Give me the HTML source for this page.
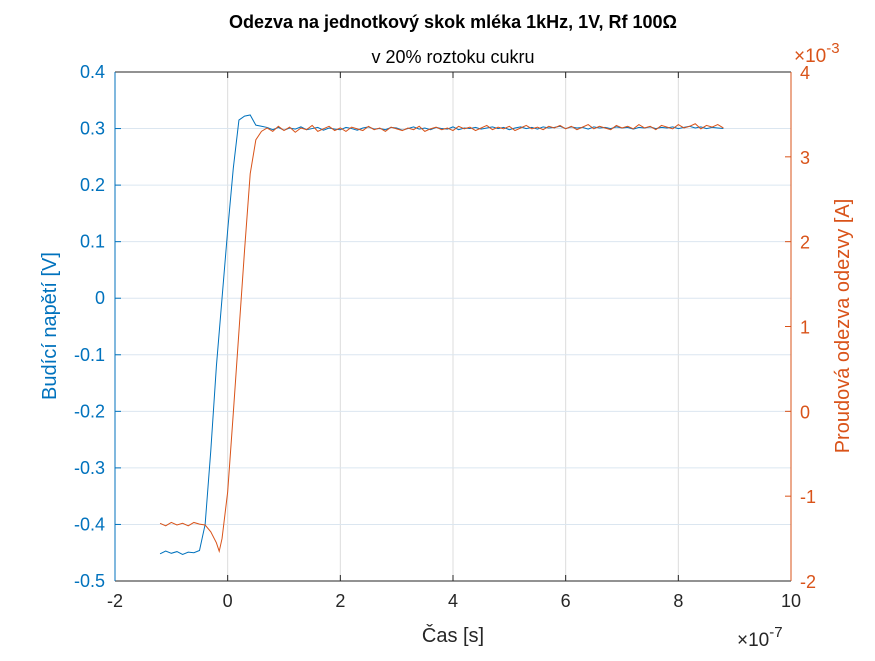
<!DOCTYPE html>
<html><head><meta charset="utf-8"><style>
body{margin:0;background:#fff;font-family:"Liberation Sans",Arial,sans-serif}
svg text{font-family:"Liberation Sans",Arial,sans-serif}
</style></head><body>
<svg id="chart" width="875" height="656" viewBox="0 0 875 656" xmlns="http://www.w3.org/2000/svg">
<rect width="875" height="656" fill="#fff"/>
<text x="453" y="28" text-anchor="middle" font-size="18" font-weight="bold" fill="#000">Odezva na jednotkový skok mléka 1kHz, 1V, Rf 100Ω</text>
<text x="453" y="63" text-anchor="middle" font-size="18" fill="#000">v 20% roztoku cukru</text>
<g id="grid"></g>
<g id="series"></g>
<g id="axes"></g>
<text x="453" y="642" text-anchor="middle" font-size="20" fill="#262626">Čas [s]</text>
<text x="737" y="646" font-size="19" fill="#262626">×10<tspan dy="-9" font-size="15">-7</tspan></text>
<text transform="translate(56,326) rotate(-90)" text-anchor="middle" font-size="20" fill="#0072BD">Budící napětí [V]</text>
<text transform="translate(849,326) rotate(-90)" text-anchor="middle" font-size="20" fill="#D95319">Proudová odezva odezvy [A]</text>
<text x="794" y="62" font-size="19" fill="#D95319">×10<tspan dy="-9" font-size="15">-3</tspan></text>
</svg>
<script>
const xTicks=[-2,0,2,4,6,8,10];
const leftTicks=[-0.5,-0.4,-0.3,-0.2,-0.1,0,0.1,0.2,0.3,0.4];
const leftTickLabels=["-0.5","-0.4","-0.3","-0.2","-0.1","0","0.1","0.2","0.3","0.4"];
const rightTicks=[-2,-1,0,1,2,3,4];
const timeFront=[-1.2,-1.1,-1.0,-0.9,-0.8,-0.7,-0.6,-0.5,-0.4,-0.3,-0.2,-0.15,-0.1,0,0.1,0.2,0.3,0.4,0.5,0.6,0.7];
const voltFront=[-0.452,-0.447,-0.451,-0.448,-0.453,-0.449,-0.450,-0.446,-0.40,-0.27,-0.12,-0.06,0.0,0.12,0.23,0.315,0.322,0.324,0.306,0.304,0.302];
const currFront=[-1.32,-1.35,-1.31,-1.34,-1.32,-1.35,-1.31,-1.33,-1.34,-1.42,-1.55,-1.65,-1.50,-0.95,-0.02,0.94,1.90,2.80,3.20,3.30,3.34];
const voltSteady=[0.298,0.302,0.297,0.301,0.299,0.303,0.298,0.300,0.302,0.297,0.301,0.299,0.298,0.302,0.300,0.297,0.301,0.303,0.299,0.300,0.298,0.302,0.301,0.297,0.300,0.303,0.299,0.301,0.298,0.302,0.300,0.299,0.303,0.298,0.301,0.300,0.302,0.299,0.301,0.303,0.300,0.302,0.298,0.301,0.303,0.300,0.302,0.299,0.303,0.301,0.302,0.304,0.300,0.303,0.301,0.302,0.299,0.303,0.301,0.302,0.300,0.303,0.301,0.302,0.299,0.302,0.301,0.303,0.300,0.302,0.301,0.303,0.300,0.302,0.304,0.301,0.303,0.300,0.302,0.301,0.300];
const currSteady=[3.30,3.36,3.31,3.35,3.29,3.34,3.32,3.37,3.30,3.33,3.36,3.31,3.34,3.30,3.35,3.33,3.31,3.36,3.32,3.34,3.30,3.35,3.33,3.31,3.34,3.32,3.36,3.30,3.33,3.35,3.32,3.34,3.31,3.36,3.33,3.35,3.31,3.34,3.37,3.32,3.35,3.33,3.36,3.31,3.34,3.37,3.33,3.35,3.32,3.36,3.34,3.37,3.33,3.36,3.32,3.35,3.38,3.33,3.36,3.34,3.32,3.37,3.34,3.36,3.33,3.38,3.34,3.36,3.32,3.37,3.35,3.33,3.38,3.34,3.36,3.39,3.33,3.37,3.35,3.38,3.34];
const NS="http://www.w3.org/2000/svg";
const L=115,R=791,T=72,B=581;
const sx=v=>L+(v+2)/12*(R-L);
const syL=v=>B-(v+0.5)/0.9*(B-T);
const syR=v=>B-(v+2)/6*(B-T);
function mk(tag,attrs,parent,text){const e=document.createElementNS(NS,tag);for(const k in attrs)e.setAttribute(k,attrs[k]);if(text!==undefined)e.textContent=text;parent.appendChild(e);return e;}
const gridG=document.getElementById('grid'),axesG=document.getElementById('axes'),seriesG=document.getElementById('series');
xTicks.forEach(t=>{const x=sx(t);
 const g=mk('line',{x1:x,x2:x,y1:T,y2:B,stroke:'#dcdcdc','stroke-width':1},gridG);
 
 
 const tk=mk('line',{x1:x,x2:x,y1:B,y2:B-6,stroke:'#262626'},axesG);
 
 
 const tk2=mk('line',{x1:x,x2:x,y1:T,y2:T+6,stroke:'#262626'},axesG);
 
 
 const lb=mk('text',{x:x,y:B+26,'text-anchor':'middle','font-size':18,fill:'#262626'},axesG,String(t));
 
 
});
leftTicks.forEach((t,i)=>{const y=syL(t);
 const g=mk('line',{x1:L,x2:R,y1:y,y2:y,stroke:'#dbe6f0','stroke-width':1},gridG);
 
 
 const tk=mk('line',{x1:L,x2:L+6,y1:y,y2:y,stroke:'#0072BD'},axesG);
 
 
 const lb=mk('text',{x:L-10,y:y+6,'text-anchor':'end','font-size':18,fill:'#0072BD'},axesG,leftTickLabels[i]);
 
 
});
rightTicks.forEach(t=>{const y=syR(t);
 const tk=mk('line',{x1:R,x2:R-6,y1:y,y2:y,stroke:'#D95319'},axesG);
 
 
 const lb=mk('text',{x:R+9,y:y+7,'font-size':18,fill:'#D95319'},axesG,String(t));
 
 
});
const topBorder=mk('line',{x1:L,x2:R,y1:T,y2:T,stroke:'#262626'},axesG);


const bot=mk('line',{x1:L,x2:R,y1:B,y2:B,stroke:'#262626'},axesG);


const la=mk('line',{x1:L,x2:L,y1:T,y2:B,stroke:'#0072BD'},axesG);


const ra=mk('line',{x1:R,x2:R,y1:T,y2:B,stroke:'#D95319'},axesG);


const timeSteady=voltSteady.map((_,i)=>Math.round((0.8+i*0.1)*100)/100);
const times=timeFront.concat(timeSteady);
const volts=voltFront.concat(voltSteady);
const currs=currFront.concat(currSteady);
const pv=mk('polyline',{points:times.map((t,i)=>sx(t)+','+syL(volts[i])).join(' '),fill:'none',stroke:'#0072BD','stroke-width':1},seriesG);


const pc=mk('polyline',{points:times.map((t,i)=>sx(t)+','+syR(currs[i])).join(' '),fill:'none',stroke:'#D95319','stroke-width':1},seriesG);


</script>
</body></html>
